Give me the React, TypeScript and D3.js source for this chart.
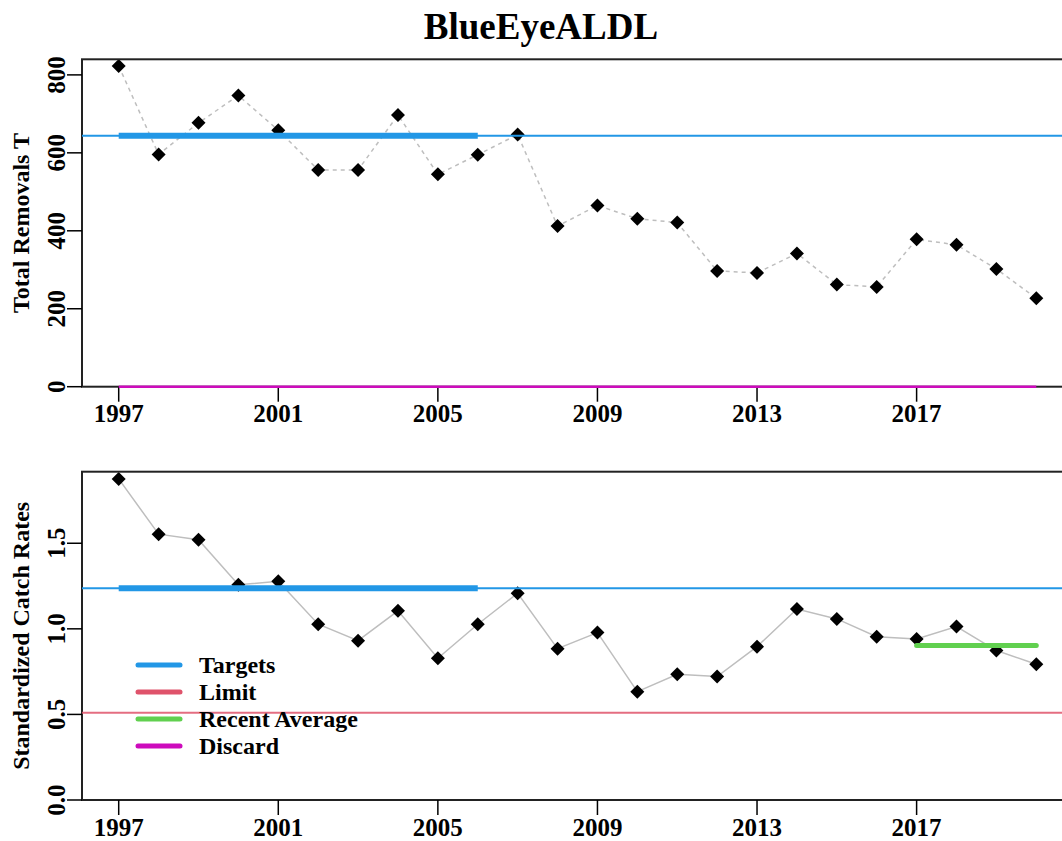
import { useEffect, useRef } from "react";
import * as d3 from "d3";

// years on the x axis
const YEARS = [
  1997, 1998, 1999, 2000, 2001, 2002, 2003, 2004, 2005, 2006, 2007, 2008,
  2009, 2010, 2011, 2012, 2013, 2014, 2015, 2016, 2017, 2018, 2019, 2020,
];

// top panel: total removals (t)
const REMOVALS = [
  823, 596, 677, 747, 658, 556, 556, 697, 545, 595, 647, 412,
  465, 431, 421, 297, 292, 342, 262, 256, 378, 364, 302, 227,
];

// bottom panel: standardized catch rates
const CATCH_RATES = [
  1.876, 1.553, 1.52, 1.257, 1.278, 1.027, 0.931, 1.105, 0.828, 1.027, 1.208, 0.884,
  0.978, 0.633, 0.735, 0.721, 0.896, 1.116, 1.058, 0.954, 0.941, 1.013, 0.873, 0.793,
];

const REMOVAL_TARGET = 644;
const CPUE_TARGET = 1.237;
const CPUE_LIMIT = 0.51;
const RECENT_AVERAGE = 0.902;
const DISCARD = 0;
const TARGET_PERIOD = [1997, 2006];
const RECENT_PERIOD = [2017, 2020];
const DISCARD_PERIOD = [1997, 2020];

const X_TICKS = [1997, 2001, 2005, 2009, 2013, 2017];
const REMOVAL_TICKS = [0, 200, 400, 600, 800];
const CPUE_TICKS = [0, 0.5, 1.0, 1.5];

const LEGEND_LABELS = ["Targets", "Limit", "Recent Average", "Discard"];

const BLUE = "#2297E6";
const RED = "#DF536B";
const GREEN = "#61D04F";
const MAGENTA = "#CD0BBC";
const LEGEND_COLORS = [BLUE, RED, GREEN, MAGENTA];

const W = 1062;
const H = 841;
const FONT = "'Liberation Serif', 'Times New Roman', serif";

export default function App() {
  const svgRef = useRef<SVGSVGElement | null>(null);

  useEffect(() => {
    const svg = svgRef.current;
    if (!svg) return;
    svg.innerHTML = "";
    const root = d3.select(svg);

    const x = d3.scaleLinear().domain([1996.08, 2020.92]).range([82, 1073]);
    const diamond = d3.symbol(d3.symbolSquare, 98);

    // title
    root
      .append("text")
      .attr("x", 541)
      .attr("y", 39)
      .attr("text-anchor", "middle")
      .style("font-family", FONT)
      .style("font-weight", "bold")
      .style("font-size", "37px")
      .text("BlueEyeALDL");

    type Panel = {
      top: number;
      bottom: number;
      yMax: number;
      ticks: number[];
      fmt: (v: number) => string;
      values: number[];
      dashed: boolean;
      title: string;
    };

    const drawPanel = (p: Panel) => {
      const y = d3.scaleLinear().domain([0, p.yMax]).range([p.bottom, p.top]);
      const g = root.append("g");

      // connecting line
      const line = d3
        .line<number>()
        .x((_, i) => x(YEARS[i]))
        .y((v) => y(v));
      g.append("path")
        .attr("d", line(p.values))
        .attr("fill", "none")
        .attr("stroke", "#bebebe")
        .attr("stroke-width", 1.5)
        .attr("stroke-dasharray", p.dashed ? "4,4" : null);

      // points (pch 18)
      g.selectAll(".pt")
        .data(p.values)
        .join("path")
        .attr("class", "pt")
        .attr("d", diamond)
        .attr("transform", (v, i) => `translate(${x(YEARS[i])},${y(v)}) rotate(45)`)
        .attr("fill", "#000");

      // box (left, top, bottom visible)
      g.append("rect")
        .attr("x", x.range()[0])
        .attr("y", p.top)
        .attr("width", x.range()[1] - x.range()[0])
        .attr("height", p.bottom - p.top)
        .attr("fill", "none")
        .attr("stroke", "#222")
        .attr("stroke-width", 2);

      // y axis
      p.ticks.forEach((t) => {
        g.append("line")
          .attr("x1", x.range()[0] - 15)
          .attr("x2", x.range()[0])
          .attr("y1", y(t))
          .attr("y2", y(t))
          .attr("stroke", "#000")
          .attr("stroke-width", 1.5);
        g.append("text")
          .attr("transform", `translate(65,${y(t)}) rotate(-90)`)
          .attr("text-anchor", "middle")
          .style("font-family", FONT)
          .style("font-weight", "bold")
          .style("font-size", "25px")
          .text(p.fmt(t));
      });

      // x axis
      X_TICKS.forEach((t) => {
        g.append("line")
          .attr("x1", x(t))
          .attr("x2", x(t))
          .attr("y1", p.bottom)
          .attr("y2", p.bottom + 15)
          .attr("stroke", "#000")
          .attr("stroke-width", 1.5);
        g.append("text")
          .attr("x", x(t))
          .attr("y", p.bottom + 35.5)
          .attr("text-anchor", "middle")
          .style("font-family", FONT)
          .style("font-weight", "bold")
          .style("font-size", "25px")
          .text(String(t));
      });

      // y axis title
      g.append("text")
        .attr("transform", `translate(28.5,${(p.top + p.bottom) / 2}) rotate(-90)`)
        .attr("text-anchor", "middle")
        .style("font-family", FONT)
        .style("font-weight", "bold")
        .style("font-size", "24px")
        .text(p.title);

      return { g, y };
    };

    // top panel
    const top = drawPanel({
      top: 59.3,
      bottom: 386.7,
      yMax: 840,
      ticks: REMOVAL_TICKS,
      fmt: (v) => String(v),
      values: REMOVALS,
      dashed: true,
      title: "Total Removals T",
    });
    top.g.append("line")
      .attr("x1", x.range()[0]).attr("x2", x.range()[1])
      .attr("y1", top.y(REMOVAL_TARGET)).attr("y2", top.y(REMOVAL_TARGET))
      .attr("stroke", BLUE).attr("stroke-width", 2);
    top.g.append("line")
      .attr("x1", x(TARGET_PERIOD[0])).attr("x2", x(TARGET_PERIOD[1]))
      .attr("y1", top.y(REMOVAL_TARGET)).attr("y2", top.y(REMOVAL_TARGET))
      .attr("stroke", BLUE).attr("stroke-width", 6);
    top.g.append("line")
      .attr("x1", x(DISCARD_PERIOD[0])).attr("x2", x(DISCARD_PERIOD[1]))
      .attr("y1", top.y(DISCARD)).attr("y2", top.y(DISCARD))
      .attr("stroke", MAGENTA).attr("stroke-width", 2.5);

    // bottom panel
    const bot = drawPanel({
      top: 471.7,
      bottom: 800,
      yMax: 1.918,
      ticks: CPUE_TICKS,
      fmt: (v) => v.toFixed(1),
      values: CATCH_RATES,
      dashed: false,
      title: "Standardized Catch Rates",
    });
    bot.g.append("line")
      .attr("x1", x.range()[0]).attr("x2", x.range()[1])
      .attr("y1", bot.y(CPUE_TARGET)).attr("y2", bot.y(CPUE_TARGET))
      .attr("stroke", BLUE).attr("stroke-width", 2);
    bot.g.append("line")
      .attr("x1", x(TARGET_PERIOD[0])).attr("x2", x(TARGET_PERIOD[1]))
      .attr("y1", bot.y(CPUE_TARGET)).attr("y2", bot.y(CPUE_TARGET))
      .attr("stroke", BLUE).attr("stroke-width", 6);
    bot.g.append("line")
      .attr("x1", x.range()[0]).attr("x2", x.range()[1])
      .attr("y1", bot.y(CPUE_LIMIT)).attr("y2", bot.y(CPUE_LIMIT))
      .attr("stroke", RED).attr("stroke-opacity", 0.85).attr("stroke-width", 2);
    bot.g.append("line")
      .attr("x1", x(RECENT_PERIOD[0])).attr("x2", x(RECENT_PERIOD[1]))
      .attr("y1", bot.y(RECENT_AVERAGE)).attr("y2", bot.y(RECENT_AVERAGE))
      .attr("stroke", GREEN).attr("stroke-width", 5).attr("stroke-linecap", "round");

    // legend
    const legend = root.append("g").attr("transform", "translate(138,665)");
    LEGEND_LABELS.forEach((label, i) => {
      const ly = i * 27;
      legend.append("line")
        .attr("x1", 0).attr("x2", 42)
        .attr("y1", ly).attr("y2", ly)
        .attr("stroke", LEGEND_COLORS[i])
        .attr("stroke-width", 5)
        .attr("stroke-linecap", "round");
      legend.append("text")
        .attr("x", 61)
        .attr("y", ly + 8)
        .style("font-family", FONT)
        .style("font-weight", "bold")
        .style("font-size", "24px")
        .text(label);
    });
  }, []);

  return (
    <svg
      ref={svgRef}
      width={W}
      height={H}
      style={{ position: "absolute", left: 0, top: 0, background: "#fff" }}
    />
  );
}
